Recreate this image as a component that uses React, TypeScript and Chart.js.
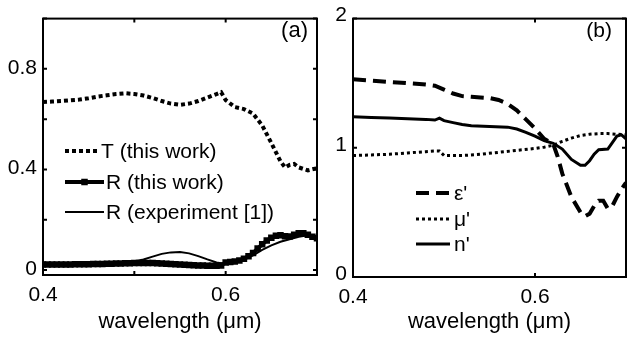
import React, { useEffect, useRef } from 'react';
import { Chart, registerables } from 'chart.js';

Chart.register(...registerables);

const FONT = '"Liberation Sans", Arial, Helvetica, sans-serif';

// ---------- Panel (a) data ----------
const tWavelength = [0.40, 0.41, 0.42, 0.43, 0.44, 0.45, 0.46, 0.47, 0.48, 0.49, 0.50, 0.51, 0.52, 0.53, 0.54, 0.55, 0.56, 0.57, 0.58, 0.59, 0.595, 0.60, 0.61, 0.62, 0.63, 0.64, 0.65, 0.66, 0.665, 0.67, 0.675, 0.68, 0.69, 0.70];
const tValues = [0.668, 0.670, 0.672, 0.675, 0.678, 0.683, 0.690, 0.695, 0.700, 0.703, 0.700, 0.694, 0.684, 0.672, 0.662, 0.657, 0.662, 0.672, 0.686, 0.700, 0.707, 0.676, 0.648, 0.640, 0.622, 0.575, 0.505, 0.432, 0.408, 0.418, 0.422, 0.408, 0.396, 0.405];

const rWavelength = [0.400, 0.405, 0.410, 0.415, 0.420, 0.425, 0.430, 0.435, 0.440, 0.445, 0.450, 0.455, 0.460, 0.465, 0.470, 0.475, 0.480, 0.485, 0.490, 0.495, 0.500, 0.505, 0.510, 0.515, 0.520, 0.525, 0.530, 0.535, 0.540, 0.545, 0.550, 0.555, 0.560, 0.565, 0.570, 0.575, 0.580, 0.585, 0.590, 0.595, 0.600, 0.605, 0.610, 0.615, 0.620, 0.625, 0.630, 0.635, 0.640, 0.645, 0.650, 0.655, 0.660, 0.665, 0.670, 0.675, 0.680, 0.685, 0.690, 0.695, 0.700];
const rValues = [0.022, 0.022, 0.022, 0.022, 0.022, 0.022, 0.022, 0.023, 0.023, 0.023, 0.023, 0.024, 0.024, 0.024, 0.025, 0.025, 0.026, 0.026, 0.027, 0.027, 0.028, 0.028, 0.028, 0.028, 0.028, 0.027, 0.026, 0.025, 0.024, 0.023, 0.022, 0.021, 0.020, 0.019, 0.018, 0.018, 0.017, 0.017, 0.017, 0.018, 0.030, 0.032, 0.034, 0.038, 0.045, 0.055, 0.068, 0.085, 0.102, 0.117, 0.128, 0.136, 0.138, 0.134, 0.133, 0.140, 0.146, 0.146, 0.140, 0.132, 0.126];

const rExpWavelength = [0.40, 0.41, 0.42, 0.43, 0.44, 0.45, 0.46, 0.47, 0.48, 0.49, 0.50, 0.51, 0.52, 0.53, 0.54, 0.55, 0.56, 0.57, 0.58, 0.59, 0.60, 0.61, 0.62, 0.63, 0.64, 0.65, 0.66, 0.67, 0.68, 0.69, 0.70];
const rExpValues = [0.022, 0.022, 0.022, 0.023, 0.023, 0.024, 0.025, 0.026, 0.028, 0.030, 0.034, 0.042, 0.053, 0.064, 0.070, 0.071, 0.066, 0.055, 0.042, 0.030, 0.024, 0.028, 0.040, 0.058, 0.080, 0.098, 0.112, 0.122, 0.132, 0.138, 0.130];

const xTicksA = [0.4, 0.5, 0.6, 0.7];
const xLabelsA = ['0.4', '', '0.6', ''];
const yTicksA = [0, 0.2, 0.4, 0.6, 0.8, 1.0];
const yLabelsA = ['0', '', '0.4', '', '0.8', ''];

// ---------- Panel (b) data ----------
const epsWavelength = [0.40, 0.42, 0.44, 0.46, 0.48, 0.49, 0.50, 0.51, 0.52, 0.53, 0.54, 0.55, 0.56, 0.57, 0.58, 0.59, 0.60, 0.61, 0.62, 0.625, 0.63, 0.64, 0.65, 0.655, 0.66, 0.665, 0.67, 0.675, 0.68, 0.685, 0.69, 0.695, 0.70];
const epsValues = [1.53, 1.52, 1.51, 1.50, 1.49, 1.48, 1.45, 1.42, 1.40, 1.395, 1.39, 1.385, 1.37, 1.34, 1.29, 1.22, 1.15, 1.07, 1.03, 0.93, 0.80, 0.62, 0.50, 0.47, 0.49, 0.55, 0.59, 0.59, 0.53, 0.55, 0.62, 0.68, 0.73];

const muWavelength = [0.40, 0.42, 0.44, 0.46, 0.48, 0.49, 0.495, 0.50, 0.52, 0.54, 0.56, 0.58, 0.60, 0.61, 0.62, 0.63, 0.64, 0.65, 0.66, 0.67, 0.68, 0.69, 0.70];
const muValues = [0.94, 0.945, 0.95, 0.96, 0.97, 0.975, 0.975, 0.94, 0.94, 0.95, 0.965, 0.98, 0.995, 1.005, 1.02, 1.05, 1.075, 1.095, 1.105, 1.11, 1.11, 1.105, 1.10];

const nWavelength = [0.40, 0.42, 0.44, 0.46, 0.48, 0.49, 0.495, 0.50, 0.51, 0.52, 0.53, 0.55, 0.57, 0.58, 0.59, 0.60, 0.61, 0.62, 0.63, 0.64, 0.65, 0.655, 0.66, 0.665, 0.67, 0.68, 0.685, 0.69, 0.695, 0.70];
const nValues = [1.24, 1.235, 1.23, 1.225, 1.22, 1.215, 1.23, 1.21, 1.195, 1.18, 1.17, 1.165, 1.16, 1.145, 1.12, 1.09, 1.055, 1.035, 0.99, 0.91, 0.865, 0.865, 0.90, 0.95, 0.985, 0.99, 1.04, 1.09, 1.10, 1.07];

const xTicksB = [0.4, 0.6];
const xLabelsB = ['0.4', '0.6'];
const yTicksB = [0, 1, 2];
const yLabelsB = ['0', '1', '2'];

const xTitle = 'wavelength (\u03bcm)';

const pts = (xs: number[], ys: number[]) => xs.map((x, i) => ({ x, y: ys[i] }));

// ---------- plugins ----------
const framePlugin = {
  id: 'frame',
  afterDatasetsDraw(chart: any) {
    const { ctx, chartArea, scales } = chart;
    const { left, right, top, bottom } = chartArea;
    ctx.save();
    ctx.strokeStyle = '#000';
    ctx.lineWidth = 2;
    ctx.setLineDash([]);
    ctx.strokeRect(left, top, right - left, bottom - top);
    const L = 4;
    ctx.beginPath();
    scales.x.ticks.forEach((t: any) => {
      const p = scales.x.getPixelForValue(t.value);
      ctx.moveTo(p, bottom); ctx.lineTo(p, bottom - L);
      ctx.moveTo(p, top); ctx.lineTo(p, top + L);
    });
    scales.y.ticks.forEach((t: any) => {
      const p = scales.y.getPixelForValue(t.value);
      ctx.moveTo(left, p); ctx.lineTo(left + L, p);
      ctx.moveTo(right, p); ctx.lineTo(right - L, p);
    });
    ctx.stroke();
    ctx.restore();
  },
};

const legendPlugin = {
  id: 'panelLegend',
  afterDraw(chart: any, _args: any, opts: any) {
    const ctx = chart.ctx;
    ctx.save();
    ctx.fillStyle = '#000';
    ctx.strokeStyle = '#000';
    ctx.font = `${opts.fontSize}px ${FONT}`;
    ctx.textBaseline = 'middle';
    (opts.items || []).forEach((item: any) => {
      const ds = chart.data.datasets[item.dataset];
      ctx.lineWidth = ds.borderWidth;
      ctx.setLineDash(ds.borderDash || []);
      ctx.beginPath();
      ctx.moveTo(item.x0, item.y);
      ctx.lineTo(item.x1, item.y);
      ctx.stroke();
      ctx.setLineDash([]);
      if (ds.pointRadius > 0) {
        const s = ds.pointRadius * Math.SQRT1_2;
        const cx = (item.x0 + item.x1) / 2;
        ctx.fillRect(cx - s, item.y - s, 2 * s, 2 * s);
      }
      ctx.textAlign = 'left';
      ctx.fillText(ds.label, item.textX, item.y + 1);
    });
    if (opts.tag) {
      ctx.font = `${opts.tag.size}px ${FONT}`;
      ctx.textAlign = 'right';
      ctx.fillText(opts.tag.text, opts.tag.x, opts.tag.y);
    }
    ctx.restore();
  },
};

function makeScales(
  xTicks: number[], xLabels: string[], yTicks: number[], yLabels: string[],
  yMin: number, yMax: number, xAxisHeight: number, yAxisWidth: number, yLabelOffset: number,
) {
  return {
    x: {
      type: 'linear',
      min: 0.4,
      max: 0.7,
      afterBuildTicks: (s: any) => { s.ticks = xTicks.map((v) => ({ value: v })); },
      afterFit: (s: any) => { s.height = xAxisHeight; },
      grid: { display: false, drawTicks: false },
      border: { display: false },
      ticks: {
        autoSkip: false, maxRotation: 0, minRotation: 0, padding: 8, color: '#000',
        font: { family: FONT, size: 21 },
        callback: (_v: any, i: number) => xLabels[i],
      },
      title: {
        display: true, text: xTitle, color: '#000',
        font: { family: FONT, size: 22 }, padding: { top: 0, bottom: 2 },
      },
    },
    y: {
      type: 'linear',
      min: yMin,
      max: yMax,
      afterBuildTicks: (s: any) => { s.ticks = yTicks.map((v) => ({ value: v })); },
      afterFit: (s: any) => { s.width = yAxisWidth; },
      grid: { display: false, drawTicks: false },
      border: { display: false },
      ticks: {
        autoSkip: false, padding: 6, color: '#000', labelOffset: yLabelOffset,
        font: { family: FONT, size: 21 },
        callback: (_v: any, i: number) => yLabels[i],
      },
    },
  };
}

function PanelChart({ config, width, height, left }: { config: any; width: number; height: number; left: number }) {
  const ref = useRef<HTMLCanvasElement | null>(null);
  useEffect(() => {
    if (!ref.current) return;
    const chart = new Chart(ref.current, config);
    return () => chart.destroy();
  }, [config]);
  return (
    <canvas
      ref={ref}
      width={width}
      height={height}
      style={{ position: 'absolute', left, top: 0, width, height }}
    />
  );
}

const configA: any = {
  type: 'line',
  data: {
    datasets: [
      {
        label: 'T (this work)', data: pts(tWavelength, tValues),
        borderColor: '#000', borderWidth: 4, borderDash: [4, 3], pointRadius: 0, fill: false,
      },
      {
        label: 'R (this work)', data: pts(rWavelength, rValues),
        borderColor: '#000', borderWidth: 4, pointStyle: 'rect', pointRadius: 4.6,
        pointBackgroundColor: '#000', pointBorderWidth: 0, fill: false,
      },
      {
        label: 'R (experiment [1])', data: pts(rExpWavelength, rExpValues),
        borderColor: '#000', borderWidth: 2, pointRadius: 0, fill: false,
      },
    ],
  },
  options: {
    responsive: false,
    animation: false,
    devicePixelRatio: 1,
    layout: { padding: { top: 11, right: 13, left: 0, bottom: 0 } },
    scales: makeScales(xTicksA, xLabelsA, yTicksA, yLabelsA, -0.02, 1.0, 62, 43, -1),
    plugins: {
      legend: { display: false },
      tooltip: { enabled: false },
      panelLegend: {
        fontSize: 21,
        items: [
          { dataset: 0, x0: 65, x1: 100, y: 151, textX: 101 },
          { dataset: 1, x0: 65, x1: 104, y: 182, textX: 106 },
          { dataset: 2, x0: 65, x1: 104, y: 212, textX: 106 },
        ],
        tag: { text: '(a)', x: 308, y: 31, size: 22 },
      },
    },
  },
  plugins: [framePlugin, legendPlugin],
};

const OFFSET_B = 310;
const configB: any = {
  type: 'line',
  data: {
    datasets: [
      {
        label: "\u03b5'", data: pts(epsWavelength, epsValues),
        borderColor: '#000', borderWidth: 4, borderDash: [13, 7], pointRadius: 0, fill: false,
      },
      {
        label: "\u03bc'", data: pts(muWavelength, muValues),
        borderColor: '#000', borderWidth: 3, borderDash: [3, 3], pointRadius: 0, fill: false,
      },
      {
        label: "n'", data: pts(nWavelength, nValues),
        borderColor: '#000', borderWidth: 3, pointRadius: 0, fill: false,
      },
    ],
  },
  options: {
    responsive: false,
    animation: false,
    devicePixelRatio: 1,
    layout: { padding: { top: 11, right: 1, left: 0, bottom: 0 } },
    scales: makeScales(xTicksB, xLabelsB, yTicksB, yLabelsB, 0, 2, 60, 43, -3),
    plugins: {
      legend: { display: false },
      tooltip: { enabled: false },
      panelLegend: {
        fontSize: 21,
        items: [
          { dataset: 0, x0: 416 - OFFSET_B, x1: 450 - OFFSET_B, y: 193, textX: 454 - OFFSET_B },
          { dataset: 1, x0: 416 - OFFSET_B, x1: 450 - OFFSET_B, y: 219, textX: 454 - OFFSET_B },
          { dataset: 2, x0: 416 - OFFSET_B, x1: 450 - OFFSET_B, y: 244, textX: 454 - OFFSET_B },
        ],
        tag: { text: '(b)', x: 612 - OFFSET_B, y: 31, size: 21 },
      },
    },
  },
  plugins: [framePlugin, legendPlugin],
};

export default function App() {
  return (
    <div style={{ position: 'fixed', left: 0, top: 0, width: 627, height: 337, background: '#fff', overflow: 'hidden' }}>
      <PanelChart config={configA} width={330} height={337} left={0} />
      <PanelChart config={configB} width={317} height={337} left={OFFSET_B} />
    </div>
  );
}
